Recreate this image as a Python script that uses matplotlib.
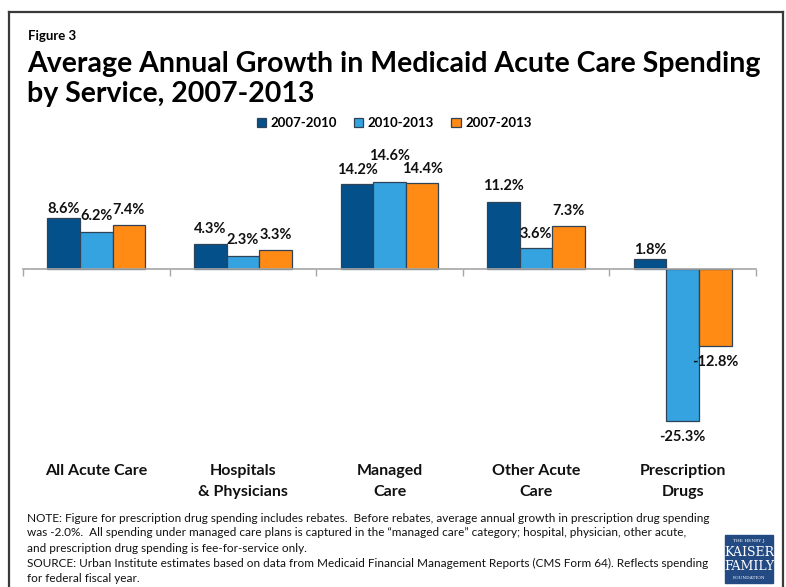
import matplotlib.pyplot as plt
import matplotlib.transforms as mtransforms
from matplotlib.lines import Line2D
from matplotlib.patches import Rectangle
import numpy as np

# data
categories = ["All Acute Care", "Hospitals\n& Physicians", "Managed\nCare",
              "Other Acute\nCare", "Prescription\nDrugs"]
periods = ["2007-2010", "2010-2013", "2007-2013"]
growth_07_10 = [8.6, 4.3, 14.2, 11.2, 1.8]
growth_10_13 = [6.2, 2.3, 14.6, 3.6, -25.3]
growth_07_13 = [7.4, 3.3, 14.4, 7.3, -12.8]
series = [growth_07_10, growth_10_13, growth_07_13]

colors = ['#04508A', '#35A3E0', '#FF8A14']
# label gap above/below bars (px), Excel nudged some of them
label_gap = [[2, 8, 7, 9, 2], [9, 9, 19, 7, 9], [8, 8, 7, 8, 9]]

note_lines = [
    "NOTE: Figure for prescription drug spending includes rebates.  Before rebates, average annual growth in prescription drug spending",
    "was -2.0%.  All spending under managed care plans is captured in the \u201cmanaged care\u201d category; hospital, physician, other acute,",
    "and prescription drug spending is fee-for-service only.",
    "SOURCE: Urban Institute estimates based on data from Medicaid Financial Management Reports (CMS Form 64). Reflects spending",
    "for federal fiscal year.",
]

plt.rcParams['font.family'] = ['Lato', 'DejaVu Sans']

W, H = 786, 587
fig = plt.figure(figsize=(W / 100, H / 100), dpi=100)
fig.patch.set_facecolor('white')


def fx(px):
    return px / W


def fy(py):
    return 1 - py / H


renderer = fig.canvas.get_renderer()


def fit_width(t, target):
    # scale font so the text spans the target width in pixels
    w = t.get_window_extent(renderer=renderer).width
    t.set_fontsize(t.get_fontsize() * target / w)


# frame around the slide
frame_kw = dict(color='#3A3A3A', lw=1.6, transform=fig.transFigure)
fig.add_artist(Line2D([fx(9), fx(9)], [fy(12), fy(590)], **frame_kw))
fig.add_artist(Line2D([fx(9), fx(783)], [fy(12), fy(12)], **frame_kw))
fig.add_artist(Line2D([fx(783), fx(783)], [fy(12), fy(12 + 578)], **frame_kw))

# titles
fig.text(fx(28), fy(40), "Figure 3", fontsize=9.5, fontweight='bold', va='baseline')
t1 = fig.text(fx(27), fy(72), "Average Annual Growth in Medicaid Acute Care Spending",
              fontsize=20, fontweight='bold', va='baseline')
fit_width(t1, 735)
fig.text(fx(27), fy(102), "by Service, 2007-2013", fontsize=t1.get_fontsize(),
         fontweight='bold', va='baseline')

# bars
ax = fig.add_axes([fx(23), fy(450), fx(756) - fx(23), fy(140) - fy(450)])
x = np.arange(len(categories))
bw = 0.222
for k, vals in enumerate(series):
    pos = x + (k - 1) * bw
    ax.bar(pos, vals, width=bw, color=colors[k], edgecolor='#2F4358',
           linewidth=0.9, label=periods[k], zorder=2)
    for i, v in enumerate(vals):
        gap = label_gap[k][i] * 0.72
        ax.annotate(f"{v:.1f}%", (pos[i], v), xytext=(0, gap if v >= 0 else -gap),
                    textcoords='offset points', ha='center',
                    va='bottom' if v >= 0 else 'top',
                    fontsize=10.5, fontweight='bold', color='#111111')

ax.set_xlim(-0.5, len(categories) - 0.5)
ax.set_ylim(-30.08, 21.58)
for s in ['left', 'right', 'top']:
    ax.spines[s].set_visible(False)
ax.spines['bottom'].set_position(('data', 0))
ax.spines['bottom'].set_color('#A6A6A6')
ax.spines['bottom'].set_linewidth(1.2)
ax.set_xticks(np.arange(len(categories) + 1) - 0.5)
ax.set_xticklabels([])
ax.tick_params(axis='x', direction='out', length=5, color='#A6A6A6', width=1.0)
ax.set_yticks([])
ax.patch.set_alpha(0)

# category labels under the plot
cat_tf = mtransforms.blended_transform_factory(ax.transData, fig.transFigure)
for i, c in enumerate(categories):
    ax.text(i, fy(464), c, transform=cat_tf, ha='center', va='top',
            fontsize=11.5, fontweight='bold', linespacing=1.6, color='#111111')

# legend
fig.legend(loc='center', bbox_to_anchor=(fx(394), fy(123)), ncol=3, frameon=False,
           prop={'weight': 'bold', 'size': 9.5}, handlelength=0.7, handleheight=0.7,
           handletextpad=0.35, columnspacing=1.3)

# notes
y0 = 518
nt = None
for j, line in enumerate(note_lines):
    tt = fig.text(fx(27), fy(y0 + 15 * j), line, fontsize=9, va='center', color='#111111')
    if j == 0:
        fit_width(tt, 684)
        nt = tt.get_fontsize()
    else:
        tt.set_fontsize(nt)

# logo
fig.add_artist(Rectangle((fx(725), fy(583)), fx(773) - fx(725), fy(535) - fy(583),
                         transform=fig.transFigure, color='#234A82'))
logo_kw = dict(ha='center', va='center', color='white', family='DejaVu Serif')
fig.text(fx(749), fy(541), "THE HENRY J.", fontsize=3.2, **logo_kw)
fig.text(fx(749), fy(553), "KAISER", fontsize=9, **logo_kw)
fig.text(fx(749), fy(567), "FAMILY", fontsize=9, **logo_kw)
fig.text(fx(749), fy(578), "FOUNDATION", fontsize=3.2, **logo_kw)

fig.savefig('out.png', dpi=100)
